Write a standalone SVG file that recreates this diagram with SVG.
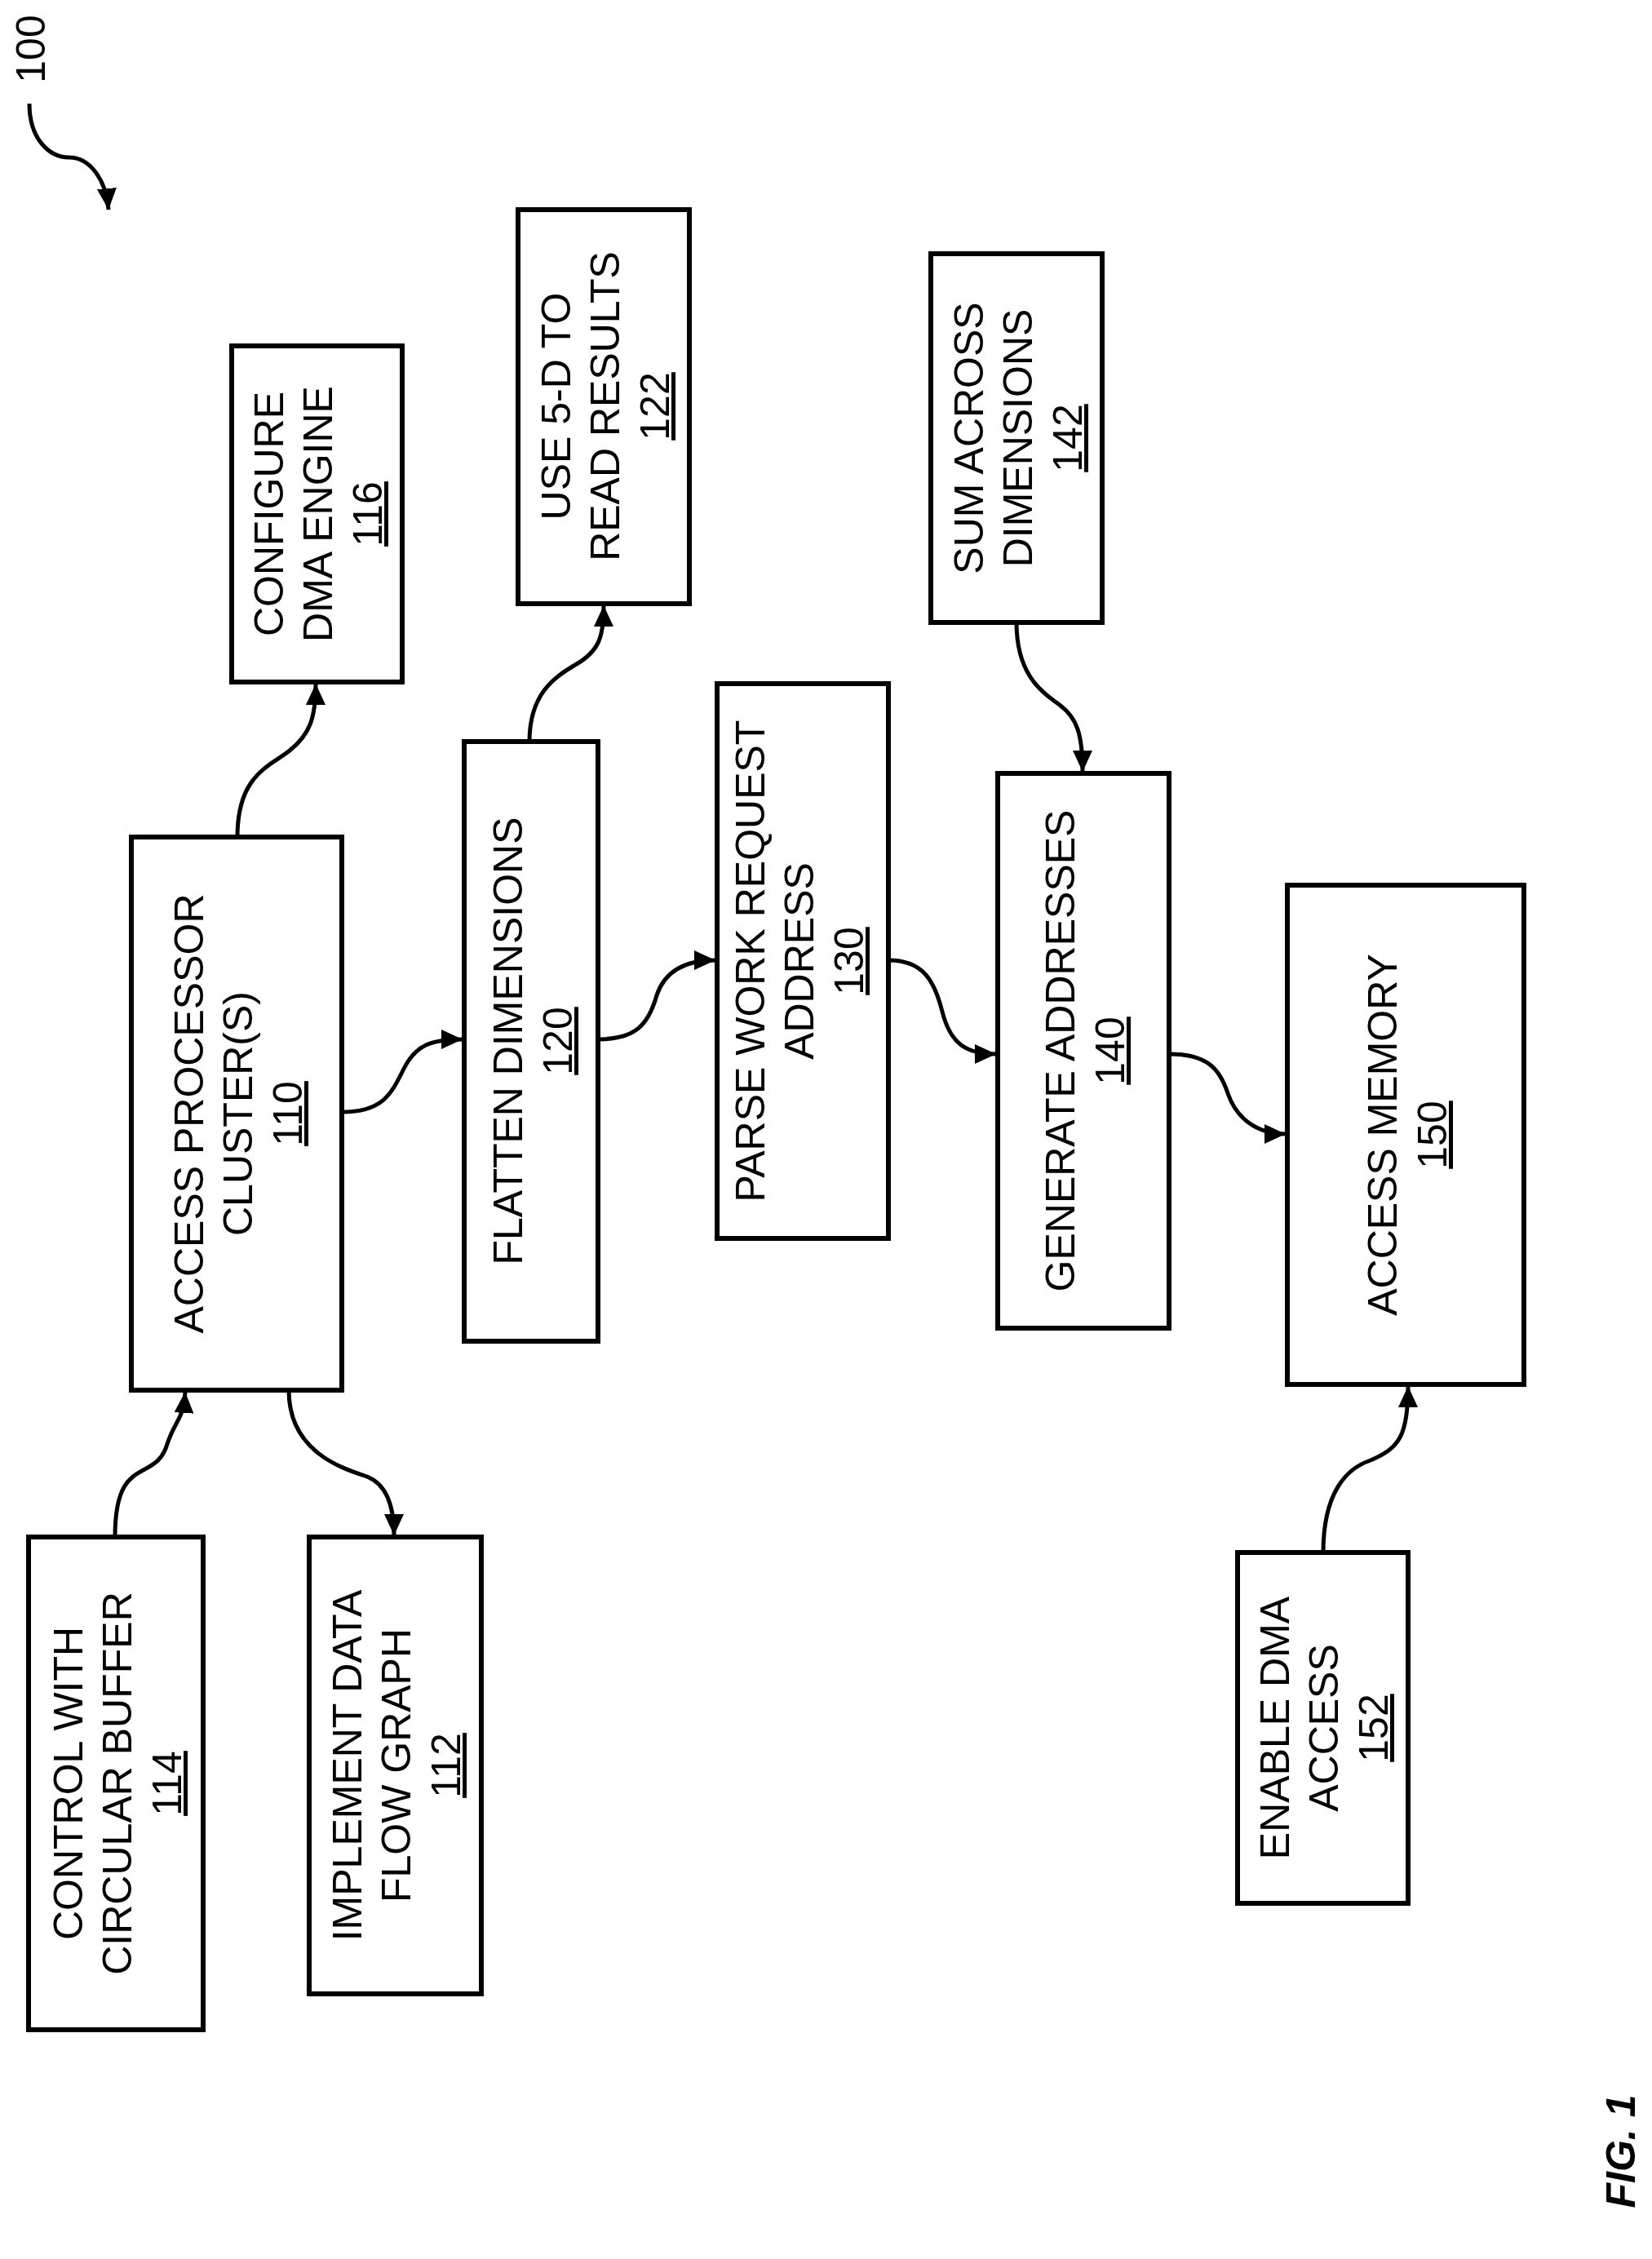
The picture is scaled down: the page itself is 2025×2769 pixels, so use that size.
<svg xmlns="http://www.w3.org/2000/svg" width="2025" height="2769" viewBox="0 0 2025 2769">
<style>
.b{fill:#fff;stroke:#000;stroke-width:6}
.t{font-family:"Liberation Sans",Arial,sans-serif;font-size:50px;fill:#000;text-anchor:middle}
.u{text-decoration:underline}
.c{fill:none;stroke:#000;stroke-width:5}
</style>
<defs>
<marker id="a" markerUnits="userSpaceOnUse" markerWidth="30" markerHeight="30" refX="26" refY="12" orient="auto">
<path d="M0,0 L26,12 L0,24 Z" fill="#000"/>
</marker>
</defs>
<rect width="2025" height="2769" fill="#fff"/>
<g id="label100">
<text class="t" transform="translate(55,60) rotate(-90)" font-size="48">100</text>
</g>
<g id="connectors">
<path class="c" marker-end="url(#a)" d="M36,127 C36,170 60,193 85,193 C110,193 130,220 133,257"/>
<path class="c" marker-end="url(#a)" d="M141,1884 C141,1780 190,1820 205,1770 C215,1740 225,1740 227,1706"/>
<path class="c" marker-end="url(#a)" d="M354,1704 C354,1780 420,1800 450,1810 C475,1820 483,1850 483,1882"/>
<path class="c" marker-end="url(#a)" d="M291,1026 C291,950 330,940 355,920 C380,900 387,880 387,838"/>
<path class="c" marker-end="url(#a)" d="M419,1363 C470,1363 480,1340 495,1310 C510,1280 530,1274 567,1274"/>
<path class="c" marker-end="url(#a)" d="M649,909 C649,850 680,830 705,815 C735,798 740,780 740,742"/>
<path class="c" marker-end="url(#a)" d="M733,1274 C780,1274 795,1255 805,1220 C815,1190 840,1177 877,1177"/>
<path class="c" marker-end="url(#a)" d="M1089,1177 C1130,1177 1145,1200 1155,1240 C1165,1280 1185,1292 1221,1292"/>
<path class="c" marker-end="url(#a)" d="M1246,763 C1246,830 1280,850 1300,865 C1320,880 1327,900 1327,946"/>
<path class="c" marker-end="url(#a)" d="M1433,1292 C1480,1292 1495,1310 1505,1340 C1515,1370 1540,1390 1576,1390"/>
<path class="c" marker-end="url(#a)" d="M1622,1903 C1622,1830 1650,1800 1680,1790 C1715,1775 1726,1760 1726,1699"/>
</g>
<g id="n114"><rect class="b" x="35" y="1884" width="214" height="604"/>
<g class="t" transform="translate(142,2186) rotate(-90)"><text y="-41">CONTROL WITH</text><text y="19">CIRCULAR BUFFER</text><text class="u" y="80">114</text></g></g>
<g id="n112"><rect class="b" x="379" y="1884" width="211" height="560"/>
<g class="t" transform="translate(484,2164) rotate(-90)"><text y="-41">IMPLEMENT DATA</text><text y="19">FLOW GRAPH</text><text class="u" y="80">112</text></g></g>
<g id="n110"><rect class="b" x="161" y="1026" width="258" height="678"/>
<g class="t" transform="translate(290,1365) rotate(-90)"><text y="-41">ACCESS PROCESSOR</text><text y="19">CLUSTER(S)</text><text class="u" y="80">110</text></g></g>
<g id="n116"><rect class="b" x="284" y="424" width="209" height="412"/>
<g class="t" transform="translate(388,630) rotate(-90)"><text y="-41">CONFIGURE</text><text y="19">DMA ENGINE</text><text class="u" y="80">116</text></g></g>
<g id="n120"><rect class="b" x="569" y="909" width="164" height="735"/>
<g class="t" transform="translate(651,1276) rotate(-90)"><text y="-11">FLATTEN DIMENSIONS</text><text class="u" y="50">120</text></g></g>
<g id="n122"><rect class="b" x="635" y="257" width="210" height="483"/>
<g class="t" transform="translate(740,498) rotate(-90)"><text y="-41">USE 5-D TO</text><text y="19">READ RESULTS</text><text class="u" y="80">122</text></g></g>
<g id="n130"><rect class="b" x="879" y="838" width="210" height="680"/>
<g class="t" transform="translate(978,1178) rotate(-90)"><text y="-41">PARSE WORK REQUEST</text><text y="19">ADDRESS</text><text class="u" y="80">130</text></g></g>
<g id="n142"><rect class="b" x="1141" y="311" width="210" height="452"/>
<g class="t" transform="translate(1246,537) rotate(-90)"><text y="-41">SUM ACROSS</text><text y="19">DIMENSIONS</text><text class="u" y="80">142</text></g></g>
<g id="n140"><rect class="b" x="1223" y="948" width="210" height="680"/>
<g class="t" transform="translate(1328,1288) rotate(-90)"><text y="-11">GENERATE ADDRESSES</text><text class="u" y="50">140</text></g></g>
<g id="n150"><rect class="b" x="1578" y="1085" width="290" height="612"/>
<g class="t" transform="translate(1723,1391) rotate(-90)"><text y="-11">ACCESS MEMORY</text><text class="u" y="50">150</text></g></g>
<g id="n152"><rect class="b" x="1517" y="1903" width="209" height="430"/>
<g class="t" transform="translate(1621,2118) rotate(-90)"><text y="-41">ENABLE DMA</text><text y="19">ACCESS</text><text class="u" y="80">152</text></g></g>
<g id="fig"><text class="t" transform="translate(2004,2637) rotate(-90)" font-size="80" font-weight="bold" font-style="italic">FIG. 1</text></g>
</svg>
